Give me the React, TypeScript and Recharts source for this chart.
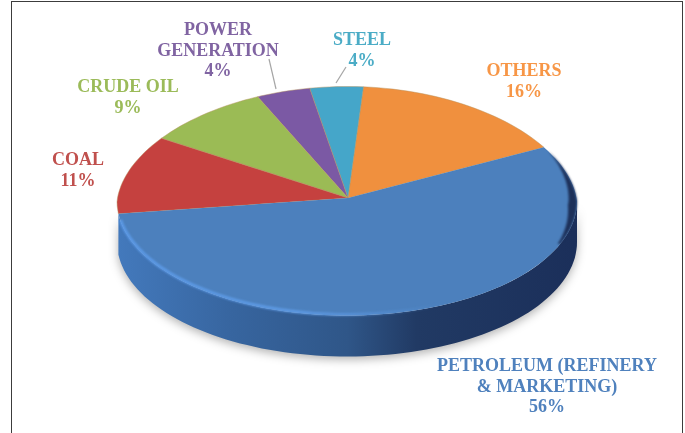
import { Pie, PieChart } from "recharts";

const sectorNames = ["OTHERS", "STEEL", "POWER GENERATION", "CRUDE OIL", "COAL", "PETROLEUM (REFINERY & MARKETING)"];
const sectorShares = [16, 4, 4, 9, 11, 56];
const sectorColors = ["#f0903e", "#45a6c9", "#7b59a4", "#9bbb55", "#c5413f", "#4c80bd"];
const textColors = ["#f79646", "#4bacc6", "#8064a2", "#9bbb59", "#c0504d", "#4f81bd"];
const labelLines: string[][] = [
  ["OTHERS", "16%"],
  ["STEEL", "4%"],
  ["POWER", "GENERATION", "4%"],
  ["CRUDE OIL", "9%"],
  ["COAL", "11%"],
  ["PETROLEUM (REFINERY", "& MARKETING)", "56%"],
];

const data = sectorNames.map((name, i) => ({ name, value: sectorShares[i], fill: sectorColors[i] }));

const W = 685;
const H = 433;
const CX = 347;
const CY = 201;
const RX = 230;
const RY = 114.5;
const DEPTH = 41;
const BACK_TAPER = 0.065; // back of the disc looks a bit narrower
const APEX_LIFT = 3;

// where each label block sits (centre x, first baseline)
const LABEL_SPOTS = [
  [524, 76],
  [362, 45],
  [218, 35],
  [128, 92],
  [78, 165],
  [547, 371],
];
const LEADERS: Record<number, number[]> = {
  1: [346, 67, 336, 83],
  2: [269, 59, 276, 89],
};

function ellipsePoint(cx: number, cy: number, deg: number) {
  const a = (deg * Math.PI) / 180;
  const s = Math.sin(a);
  const taper = s > 0 ? 1 - BACK_TAPER * s : 1;
  return [cx + RX * Math.cos(a) * taper, cy - RY * s];
}

function arcPoints(cx: number, cy: number, from: number, to: number) {
  const steps = Math.max(2, Math.ceil(Math.abs(to - from) / 2));
  const pts: number[][] = [];
  for (let i = 0; i <= steps; i++) {
    pts.push(ellipsePoint(cx, cy, from + ((to - from) * i) / steps));
  }
  return pts;
}

const toPath = (pts: number[][]) => "M" + pts.map((p) => p[0].toFixed(1) + " " + p[1].toFixed(1)).join("L");

// dark crescent where the wall wraps round the right side of the disc
function rimCrescent(cx: number, cy: number, from: number) {
  const outer = arcPoints(cx, cy, from, -22);
  const inner = arcPoints(cx, cy, -22, from).map((p, i, all) => {
    const deg = -22 + ((from + 22) * i) / (all.length - 1);
    const width = Math.max(0, 9 * (1 - Math.abs(deg + 2) / 28));
    return [p[0] - width, p[1]];
  });
  return toPath([...outer, ...inner]) + "Z";
}

// flattened top face of a slice
function TopSlice(props: any) {
  const { cx, cy, startAngle, endAngle, fill, index } = props;
  const pts = [[cx + 1, cy - APEX_LIFT], ...arcPoints(cx, cy, startAngle, endAngle)];
  const isMain = index === sectorNames.length - 1;
  return (
    <g>
      <path d={toPath(pts) + "Z"} fill={fill} stroke="#b5935f" strokeOpacity={isMain ? 0 : 0.45} strokeWidth={1} />
      {isMain && (
        <>
          <path
            d={toPath(arcPoints(cx, cy - 1, 190, 295))}
            fill="none"
            stroke="url(#rimLight)"
            strokeWidth={3}
            style={{ filter: "blur(0.8px)" }}
          />
          <path d={rimCrescent(cx, cy, endAngle - 360)} fill="#1d3059" style={{ filter: "blur(1px)" }} />
        </>
      )}
    </g>
  );
}

// side wall, only the front half of the ellipse shows
function WallSlice(props: any) {
  const { cx, cy, startAngle, endAngle, index } = props;
  const from = Math.max(startAngle, 180);
  const to = Math.min(endAngle, 360);
  if (index !== sectorNames.length - 1 || to <= from) return null;
  const upper = arcPoints(cx, cy, from, to);
  const lower = arcPoints(cx, cy + DEPTH, to, from);
  return (
    <path
      d={toPath([...upper, ...lower]) + "Z"}
      fill="url(#wallBlue)"
      style={{ filter: "drop-shadow(0 3px 5px rgba(0,0,0,0.3))" }}
    />
  );
}

function SliceLabel(props: any) {
  const { index } = props;
  const [x, y] = LABEL_SPOTS[index];
  const leader = LEADERS[index];
  return (
    <g>
      {leader && <line x1={leader[0]} y1={leader[1]} x2={leader[2]} y2={leader[3]} stroke="#a6a6a6" strokeWidth={1.2} />}
      <text x={x} y={y} textAnchor="middle" fill={textColors[index]} fontFamily="'Liberation Serif', serif" fontWeight="bold" fontSize={18}>
        {labelLines[index].map((line, i) => (
          <tspan key={i} x={x} y={y + i * 20.7}>
            {line}
          </tspan>
        ))}
      </text>
    </g>
  );
}

export default function App() {
  return (
    <div style={{ position: "fixed", left: 0, top: 0, width: W, height: H, overflow: "hidden", background: "#fff" }}>
      <div style={{ position: "absolute", left: 11, top: 1, width: 670, height: 440, border: "1.5px solid #3c3c3c" }} />
      <div style={{ position: "absolute", left: 0, top: 0, filter: "blur(0.45px)" }}>
        <PieChart width={W} height={H} margin={{ top: 0, right: 0, bottom: 0, left: 0 }}>
          <defs>
            <linearGradient id="wallBlue" x1="0" y1="0" x2="1" y2="0">
              <stop offset="0%" stopColor="#4379bc" />
              <stop offset="25%" stopColor="#37659f" />
              <stop offset="50%" stopColor="#2f5688" />
              <stop offset="65%" stopColor="#213a64" />
              <stop offset="100%" stopColor="#1b2f5a" />
            </linearGradient>
            <linearGradient id="rimLight" x1="0" y1="0" x2="1" y2="0">
              <stop offset="0%" stopColor="#5c9ae8" />
              <stop offset="55%" stopColor="#5e9ae4" />
              <stop offset="100%" stopColor="#5e9ae4" stopOpacity={0} />
            </linearGradient>
          </defs>
          <Pie
            data={data}
            dataKey="value"
            nameKey="name"
            cx={CX}
            cy={CY}
            outerRadius={RX}
            startAngle={28}
            endAngle={388}
            stroke="none"
            shape={WallSlice}
            label={false}
            labelLine={false}
            isAnimationActive={false}
          />
          <Pie
            data={data}
            dataKey="value"
            nameKey="name"
            cx={CX}
            cy={CY}
            outerRadius={RX}
            startAngle={28}
            endAngle={388}
            stroke="none"
            shape={TopSlice}
            label={SliceLabel}
            labelLine={false}
            isAnimationActive={false}
          />
        </PieChart>
      </div>
    </div>
  );
}
